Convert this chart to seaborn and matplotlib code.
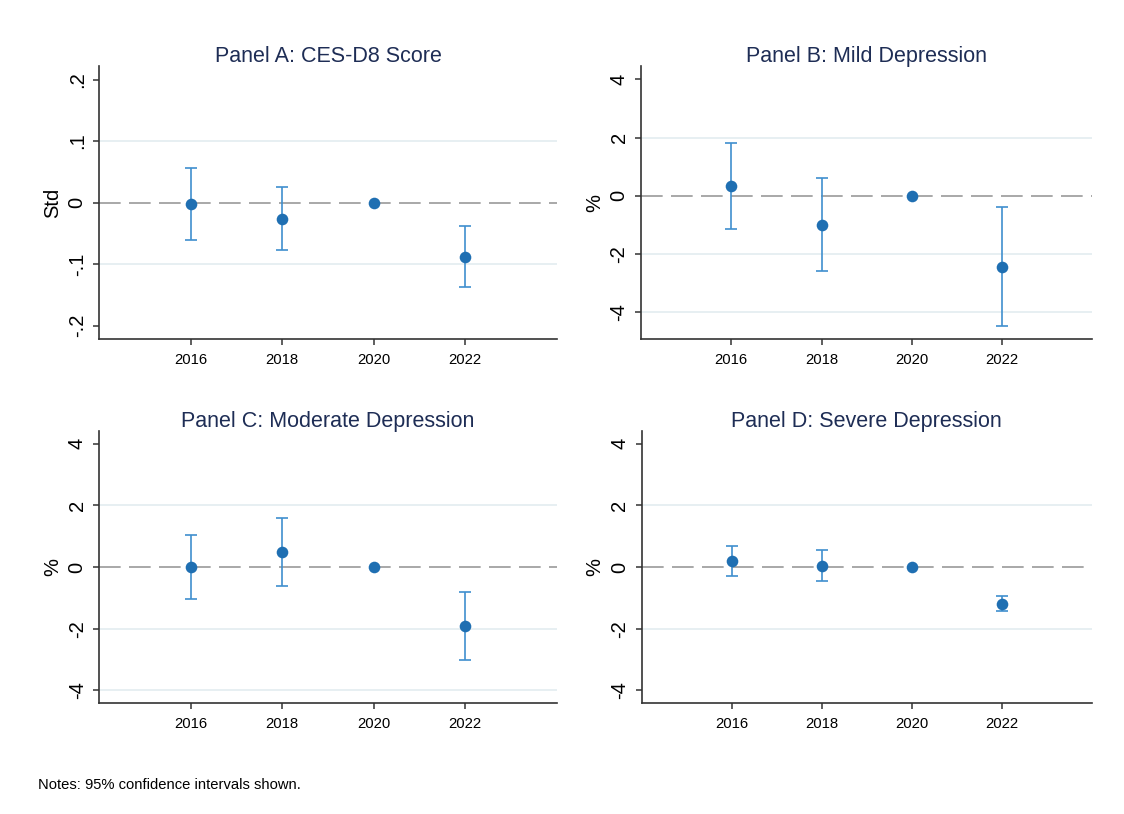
import matplotlib
matplotlib.use('Agg')
import matplotlib.pyplot as plt
import seaborn as sns
import numpy as np
import pandas as pd

#years in the event study, 2020 is the reference year (no CI)
years = [2016, 2018, 2020, 2022]

#panel A: CES-D8 score (std)
a_est = [-0.003, -0.026, 0.0, -0.088]
a_lo = [-0.060, -0.077, np.nan, -0.137]
a_hi = [0.056, 0.025, np.nan, -0.038]

#panel B: mild depression (%)
b_est = [0.33, -1.00, 0.0, -2.44]
b_lo = [-1.13, -2.58, np.nan, -4.48]
b_hi = [1.80, 0.61, np.nan, -0.38]

#panel C: moderate depression (%)
c_est = [0.01, 0.49, 0.0, -1.92]
c_lo = [-1.03, -0.62, np.nan, -3.01]
c_hi = [1.05, 1.60, np.nan, -0.82]

#panel D: severe depression (%)
d_est = [0.18, 0.04, 0.0, -1.20]
d_lo = [-0.30, -0.47, np.nan, -1.44]
d_hi = [0.68, 0.56, np.nan, -0.94]

titles = ['Panel A: CES-D8 Score', 'Panel B: Mild Depression',
          'Panel C: Moderate Depression', 'Panel D: Severe Depression']
ylabels = ['Std', '%', '%', '%']
a_ticks = [-0.2, -0.1, 0, 0.1, 0.2]
a_ticklabels = ['-.2', '-.1', '0', '.1', '.2']
pct_ticks = [-4, -2, 0, 2, 4]
pct_ticklabels = ['-4', '-2', '0', '2', '4']

sns.set_theme(style='white')
plt.rcParams['font.family'] = ['Liberation Sans', 'DejaVu Sans']

dot_color = '#1f6fb2'
bar_color = '#3f8fce'
title_color = '#1e2d55'
grid_color = '#e5eef1'

fig = plt.figure(figsize=(11.24, 8.14), dpi=100)
fig.patch.set_facecolor('white')

positions = [
    [0.0883, 0.5832, 0.4070, 0.3357],
    [0.5703, 0.5832, 0.4015, 0.3357],
    [0.0883, 0.1360, 0.4070, 0.3349],
    [0.5709, 0.1360, 0.4006, 0.3349],
]
ylims = [(-0.222, 0.222), (-4.94, 4.46), (-4.42, 4.42), (-4.42, 4.42)]
grids = [[-0.1, 0.1], [-4, -2, 2], [-4, -2, 2], [-2, 2]]

panels = [(a_est, a_lo, a_hi), (b_est, b_lo, b_hi), (c_est, c_lo, c_hi), (d_est, d_lo, d_hi)]

for i, (est, lo, hi) in enumerate(panels):
    ax = fig.add_axes(positions[i])
    df = pd.DataFrame({'year': years, 'est': est, 'lo': lo, 'hi': hi})

    #light grid lines and the dashed zero line
    for g in grids[i]:
        ax.axhline(g, color=grid_color, lw=1.3, zorder=0)
    ax.axhline(0, color='#9a9a9a', lw=1.2, ls=(0, (13, 5)), zorder=1)

    #confidence intervals
    ci = df.dropna()
    ax.errorbar(ci['year'], (ci['lo'] + ci['hi']) / 2,
                yerr=(ci['hi'] - ci['lo']) / 2, fmt='none',
                ecolor=bar_color, elinewidth=1.2, capsize=4.5, capthick=1.2, zorder=2)
    #point estimates
    sns.scatterplot(x='year', y='est', data=df, ax=ax, color=dot_color,
                    s=70, edgecolor=dot_color, linewidth=0, zorder=3)

    ax.set_xlim(2014, 2024)
    ax.set_ylim(*ylims[i])
    ax.set_xticks(years)
    ax.set_xticklabels([str(y) for y in years], fontsize=10.7, color='black')
    if i == 0:
        ax.set_yticks(a_ticks)
        ax.set_yticklabels(a_ticklabels)
    else:
        ax.set_yticks(pct_ticks)
        ax.set_yticklabels(pct_ticklabels)
    for lab in ax.get_yticklabels():
        lab.set_rotation(90)
        lab.set_va('center')
        lab.set_fontsize(14.5)
        lab.set_color('black')

    ax.set_xlabel('')
    ax.set_ylabel(ylabels[i], fontsize=14.5, labelpad=4, color='black')
    ax.set_title(titles[i], fontsize=15.5, color=title_color, pad=3)

    ax.tick_params(axis='both', direction='out', length=4, width=1.1,
                   color='#333333', bottom=True, left=True)
    ax.tick_params(axis='x', pad=6)
    ax.tick_params(axis='y', pad=5)
    for s in ['top', 'right']:
        ax.spines[s].set_visible(False)
    for s in ['left', 'bottom']:
        ax.spines[s].set_color('#333333')
        ax.spines[s].set_linewidth(1.2)
    ax.set_facecolor('white')
    ax.grid(False)

fig.text(0.034, 0.036, 'Notes: 95% confidence intervals shown.', fontsize=10.6,
         color='black', ha='left', va='center')

plt.savefig('out.png', dpi=100, facecolor='white')
